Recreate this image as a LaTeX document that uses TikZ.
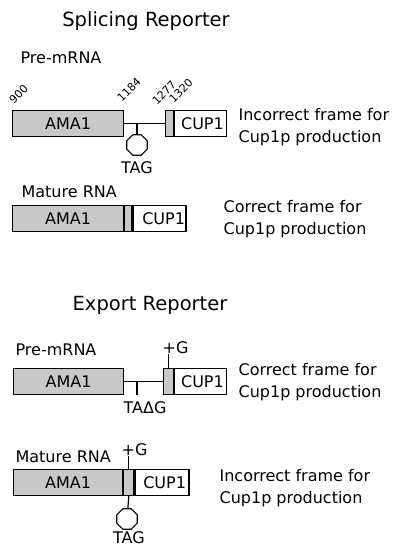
\documentclass[tikz,border=0pt]{standalone}
\usepackage{fontspec}
\setmainfont{DejaVu Sans}
\usetikzlibrary{positioning,shapes.geometric}
\definecolor{exongray}{RGB}{200,200,200}

\begin{document}
\begin{tikzpicture}[x=1pt, y=-1pt, line width=1.2pt, inner sep=0pt, font=\fontsize{16}{22}\selectfont]
\tikzstyle{exon}=[draw, fill=exongray, minimum height=26pt]
\tikzstyle{cup}=[draw, fill=white, minimum height=26pt]
\tikzstyle{title}=[anchor=base, font=\fontsize{19.5}{24}\selectfont]
\tikzstyle{posnum}=[font=\fontsize{11}{13}\selectfont, rotate=45, anchor=south west]
\tikzstyle{stop}=[draw, fill=white, regular polygon, regular polygon sides=8, minimum size=22pt]
\tikzstyle{note}=[align=left, anchor=west]
\useasboundingbox (0,0) rectangle (396,546);

% splicing reporter
\node[title] (t1) at (146,26) {Splicing Reporter};
\node[anchor=base west] (pre1) at (20,63) {Pre-mRNA};
\node[exon, minimum width=111pt, anchor=north west] (ama1) at (12,110) {AMA1};
\node[exon, minimum width=8pt, anchor=north west] (g1) at (165,110) {};
\node[cup, minimum width=52pt, right=0pt of g1] (c1) {};
\node[anchor=east] (c1t) at ([xshift=-3pt]c1.east) {CUP1};
\draw (ama1) -- (g1);
\node[posnum] (n900) at (14,105) {900};
\node[posnum] (n1184) at (122,103) {1184};
\node[posnum] (n1277) at (157,106) {1277};
\node[posnum] (n1320) at (174,104) {1320};
\node[stop] (o1) at (137,145) {};
\coordinate (br1) at (137,123);
\draw (br1) -- (o1);
\node[anchor=base] (tag1) at (137,173) {TAG};
\node[note] (f1) at (238,127) {Incorrect frame for\\Cup1p production};

\node[anchor=base west] (mat1) at (21,197) {Mature RNA};
\node[exon, minimum width=111pt, anchor=north west] (ama2) at (12,205) {AMA1};
\node[exon, minimum width=7pt, right=0pt of ama2] (g2) {};
\node[cup, minimum width=53pt, right=0pt of g2] (c2) {};
\node[anchor=east] (c2t) at ([xshift=-1pt]c2.east) {CUP1};
\node[note] (f2) at (223,219) {Correct frame for\\Cup1p production};

% export reporter
\node[title] (t2) at (150,310) {Export Reporter};
\node[anchor=base west] (pre2) at (15,355) {Pre-mRNA};
\node[exon, minimum width=110pt, anchor=north west] (ama3) at (13,368) {AMA1};
\node[exon, minimum width=10pt, anchor=north west] (g3) at (163,368) {};
\node[cup, minimum width=52pt, right=0pt of g3] (c3) {};
\node[anchor=east] (c3t) at ([xshift=-3pt]c3.east) {CUP1};
\draw (ama3) -- (g3);
\coordinate (tk3) at (137,381);
\coordinate (tk3b) at (137,395);
\draw (tk3) -- (tk3b);
\node[anchor=base] (taag) at (145,413) {TAΔG};
\node[anchor=base west] (plus3) at (162,353) {+G};
\draw (g3.north) -- (g3.north |- plus3.south);
\node[note] (f3) at (238,382) {Correct frame for\\Cup1p production};

\node[anchor=base west] (mat2) at (15,462) {Mature RNA};
\node[exon, minimum width=109pt, anchor=north west] (ama4) at (13,469) {AMA1};
\node[exon, minimum width=10pt, right=0pt of ama4] (g4) {};
\node[cup, minimum width=54pt, right=0pt of g4] (c4) {};
\node[anchor=east] (c4t) at ([xshift=-3pt]c4.east) {CUP1};
\node[anchor=base west] (plus4) at (121,455) {+G};
\draw (g4.north) -- (g4.north |- plus4.south);
\node[stop] (o4) at (127,519) {};
\draw (g4.south) -- (o4);
\node[anchor=base] (tag4) at (129,543) {TAG};
\node[note] (f4) at (219,488) {Incorrect frame for\\Cup1p production};
\end{tikzpicture}
\end{document}
